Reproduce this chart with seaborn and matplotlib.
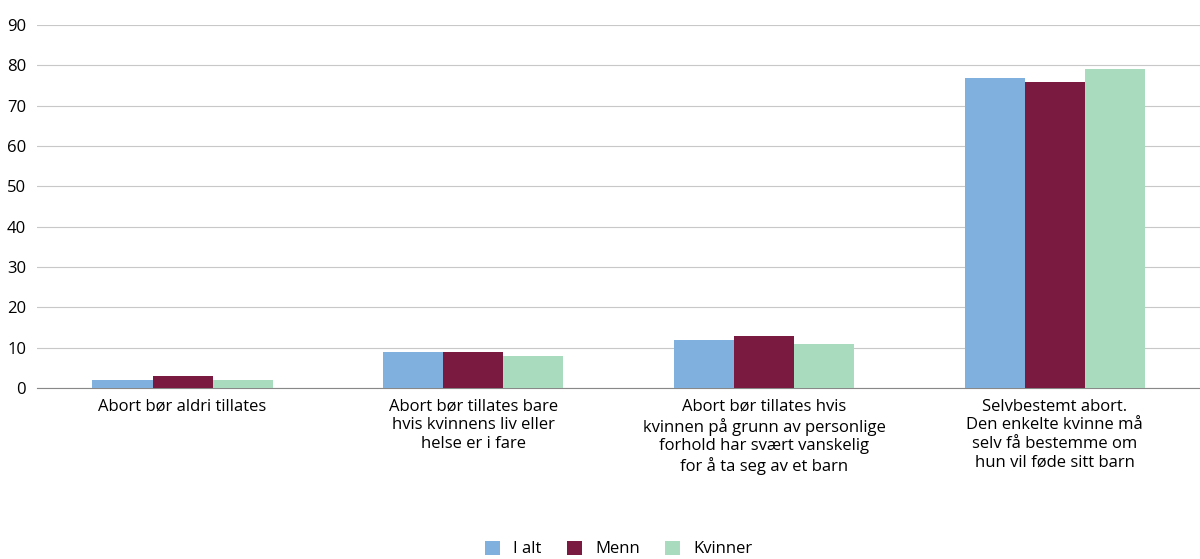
import matplotlib
matplotlib.use('Agg')
import matplotlib.pyplot as plt
import seaborn as sns
import pandas as pd

categories = [
    "Abort bør aldri tillates",
    "Abort bør tillates bare\nhvis kvinnens liv eller\nhelse er i fare",
    "Abort bør tillates hvis\nkvinnen på grunn av personlige\nforhold har svært vanskelig\nfor å ta seg av et barn",
    "Selvbestemt abort.\nDen enkelte kvinne må\nselv få bestemme om\nhun vil føde sitt barn",
]
series = ["I alt", "Menn", "Kvinner"]
i_alt = [2, 9, 12, 77]
menn = [3, 9, 13, 76]
kvinner = [2, 8, 11, 79]
colors = ["#7fb0de", "#7b1a40", "#a9dbbf"]

rows = []
for s, vals in zip(series, [i_alt, menn, kvinner]):
    for c, v in zip(categories, vals):
        rows.append({"cat": c, "series": s, "value": v})
df = pd.DataFrame(rows)

plt.rcParams["font.family"] = "Open Sans"
fig = plt.figure(figsize=(12, 5.59), dpi=100)
ax = fig.add_axes([0.031, 0.306, 0.969, 0.649])
sns.barplot(data=df, x="cat", y="value", hue="series", palette=colors,
            width=0.62, saturation=1, ax=ax, zorder=3)
ax.set_xlim(-0.5, 3.5)
ax.set_ylim(0, 90)
ax.set_yticks(range(0, 91, 10))
ax.grid(axis="y", color="#c8c8c8", linewidth=0.8, zorder=0)
ax.set_axisbelow(True)
for s in ["top", "right", "left"]:
    ax.spines[s].set_visible(False)
ax.spines["bottom"].set_color("#888888")
ax.tick_params(axis="both", length=0, labelsize=12, pad=8)
ax.set_xlabel("")
ax.set_ylabel("")
ax.legend(loc="upper center", bbox_to_anchor=(0.5, -0.38), ncol=3, frameon=False,
          fontsize=12, handlelength=0.9, handleheight=0.9, columnspacing=1.5)
fig.savefig("out.png", dpi=100)
